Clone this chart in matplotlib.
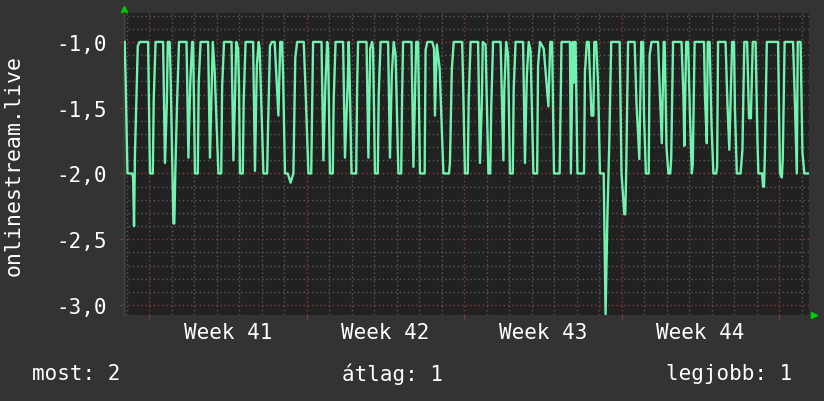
import matplotlib
matplotlib.use("Agg")
import matplotlib.pyplot as plt
from matplotlib.transforms import blended_transform_factory
import numpy as np

# hours from monday of week 41
hours = [-26, -25, -23, -18, -17, -16, -15, -13, -12, -10, -1, 1, 4, 5, 7, 15, 17, 19, 20, 22,
         23, 26, 27, 28, 30, 32, 40, 42, 44, 46, 47, 49, 52, 53, 55, 63, 65, 67, 68, 70,
         74, 77, 78, 80, 88, 90, 92, 93, 95, 96, 97, 100, 101, 103, 111, 113, 115, 117, 118, 122,
         126, 127, 129, 131, 134, 138, 140, 142, 143, 145, 148, 151, 154, 156, 158, 165, 167, 170, 173, 175,
         184, 186, 188, 190, 191, 193, 196, 197, 199, 207, 209, 212, 213, 214, 216, 221, 222, 223, 232, 234,
         236, 238, 239, 241, 244, 245, 247, 255, 257, 259, 261, 263, 266, 269, 270, 271, 280, 282, 285, 287,
         289, 294, 295, 297, 302, 304, 305, 307, 310, 314, 320, 321, 323, 325, 334, 335, 337, 340, 341, 343,
         351, 353, 355, 356, 359, 362, 364, 365, 367, 375, 378, 379, 381, 383, 385, 388, 389, 391, 399, 401,
         403, 405, 407, 410, 414, 415, 417, 421, 426, 428, 430, 431, 432, 438, 440, 449, 450, 452, 453, 454,
         455, 457, 464, 465, 467, 469, 472, 474, 475, 477, 479, 481, 485, 487, 489, 491, 493, 502, 504, 507,
         508, 509, 511, 518, 520, 523, 525, 527, 528, 530, 533, 534, 536, 543, 545, 547, 549, 550, 552, 554,
         556, 557, 559, 568, 570, 571, 573, 575, 577, 579, 580, 582, 592, 593, 595, 596, 598, 600, 602, 605,
         606, 607, 615, 617, 619, 622, 624, 625, 627, 631, 633, 635, 638, 640, 642, 644, 647, 649, 650, 654,
         655, 656, 657, 659, 671, 673, 675, 676, 678, 687, 689, 691, 692, 695, 697, 699, 703]
values = [-1.0, -1.27, -2.0, -2.0, -2.03, -2.40, -1.85, -1.30, -1.03, -1.0, -1.0, -2.0, -2.0, -1.44, -1.0, -1.0, -1.92, -1.46, -1.0, -1.0,
          -1.25, -2.38, -2.38, -2.0, -1.44, -1.0, -1.0, -1.88, -1.31, -1.0, -1.0, -2.0, -2.0, -1.31, -1.0, -1.0, -1.88, -1.30, -1.0, -1.22,
          -2.0, -2.0, -1.34, -1.0, -1.0, -1.90, -1.34, -1.0, -1.05, -1.34, -2.0, -2.0, -1.44, -1.0, -1.0, -1.98, -1.18, -1.0, -1.05, -2.0,
          -2.0, -1.64, -1.03, -1.0, -1.0, -1.56, -1.0, -1.0, -1.25, -2.0, -2.0, -2.07, -2.0, -1.12, -1.0, -1.0, -1.37, -2.0, -2.0, -1.0,
          -1.0, -1.90, -1.35, -1.0, -1.05, -2.0, -2.0, -1.44, -1.0, -1.0, -1.88, -1.30, -1.0, -1.27, -2.0, -2.0, -1.34, -1.0, -1.0, -1.88,
          -1.05, -1.0, -1.05, -2.0, -2.0, -1.41, -1.0, -1.0, -1.88, -1.24, -1.0, -1.10, -2.0, -2.0, -1.39, -1.0, -1.0, -1.95, -1.0, -1.0,
          -2.0, -2.0, -1.06, -1.0, -1.0, -1.05, -1.56, -1.02, -1.20, -2.0, -2.0, -1.92, -1.21, -1.0, -1.0, -1.30, -2.0, -2.0, -1.44, -1.0,
          -1.0, -1.92, -1.46, -1.0, -1.02, -2.0, -2.0, -1.51, -1.0, -1.0, -1.90, -1.36, -1.0, -1.10, -2.0, -2.0, -1.36, -1.0, -1.0, -1.92,
          -1.26, -1.0, -1.07, -2.0, -2.0, -1.18, -1.0, -1.05, -1.49, -1.0, -1.0, -1.54, -2.0, -2.0, -1.0, -1.0, -2.0, -1.0, -1.31, -1.0,
          -1.0, -2.0, -2.0, -1.23, -1.0, -1.0, -1.56, -1.56, -1.0, -1.0, -1.32, -2.0, -2.0, -3.07, -2.31, -1.76, -1.0, -1.0, -2.0, -2.31,
          -2.31, -1.99, -1.0, -1.0, -1.47, -1.89, -1.0, -1.0, -1.56, -2.0, -2.0, -1.10, -1.0, -1.0, -1.40, -1.77, -1.0, -1.0, -1.80, -2.0,
          -2.0, -1.89, -1.0, -1.0, -1.40, -1.79, -1.0, -1.0, -1.55, -2.0, -1.93, -1.0, -1.0, -1.41, -1.77, -1.0, -1.0, -1.63, -2.0, -2.0,
          -1.95, -1.0, -1.0, -1.47, -1.82, -1.0, -1.0, -1.51, -2.0, -2.0, -1.82, -1.0, -1.0, -1.58, -1.58, -1.0, -1.0, -1.74, -2.0, -2.0,
          -2.10, -2.10, -1.83, -1.0, -1.0, -2.0, -2.03, -1.89, -1.0, -1.0, -1.47, -2.0, -1.0, -1.0, -1.84, -2.0, -2.0]

week_labels = ["Week 41", "Week 42", "Week 43", "Week 44"]
y_ticks = [-1.0, -1.5, -2.0, -2.5, -3.0]
legend_texts = ["most: 2", "átlag: 1", "legjobb: 1"]

BG = "#333333"
CANVAS = "#212121"
LINE = "#72f2ae"
FONT = "DejaVu Sans Mono"


def draw():
    fig = plt.figure(figsize=(8.24, 4.02), dpi=100, facecolor=BG)
    ax = fig.add_axes([124 / 824, 1 - 316 / 402, 685 / 824, 302 / 402])
    ax.set_facecolor(CANVAS)
    ax.set_xlim(-26.7, 704)
    ax.set_ylim(-3.076, -0.78)

    # grid: minor every day / 0.1, major every week / 0.5
    for d in np.arange(-24, 704, 24):
        col = "#8a3a3a" if d % 168 == 0 else "#5a5a5a"
        ax.axvline(d, color=col, lw=1, ls=(0, (1, 2)), zorder=1)
    for v in np.arange(-3.0, -0.75, 0.1):
        col = "#8a3a3a" if abs(v * 2 - round(v * 2)) < 1e-6 else "#5a5a5a"
        ax.axhline(v, color=col, lw=1, ls=(0, (1, 2)), zorder=1)

    ax.plot(hours, values, color=LINE, lw=1.7, zorder=3)

    ax.set_yticks(y_ticks)
    ax.set_yticklabels([("%.1f" % t).replace(".", ",") for t in y_ticks],
                       family=FONT, fontsize=15, color="white")
    ax.set_xticks(np.arange(0, 704, 168))
    ax.set_xticklabels([])
    ax.tick_params(axis="both", length=3, color="#8a3a3a")
    ax.tick_params(axis="y", pad=9)
    ax.tick_params(axis="x", pad=2)
    for s in ax.spines.values():
        s.set_visible(False)
    ax.spines["left"].set_visible(True)
    ax.spines["left"].set_color("#3c3c3c")
    ax.spines["left"].set_linewidth(2)

    tr = blended_transform_factory(ax.transData, ax.transAxes)
    for i, lab in enumerate(week_labels):
        ax.text(84 + 168 * i, -0.024, lab, transform=tr, ha="center", va="top",
                family=FONT, fontsize=15, color="white")

    ax.set_ylabel("onlinestream.live", family=FONT, fontsize=15.5, color="white")
    ax.yaxis.set_label_coords(-0.147, 0.5)

    # rrd style arrows
    ax.plot([0], [1.012], marker="^", color="#00d000", ms=5, transform=ax.transAxes, clip_on=False)
    ax.plot([1.007], [0], marker=">", color="#00d000", ms=5, transform=ax.transAxes, clip_on=False)

    fig.text(32 / 824, 1 - 374 / 402, legend_texts[0], ha="left", va="center",
             family=FONT, fontsize=15, color="white")
    fig.text(392 / 824, 1 - 374 / 402, legend_texts[1], ha="center", va="center",
             family=FONT, fontsize=15, color="white")
    fig.text(792 / 824, 1 - 374 / 402, legend_texts[2], ha="right", va="center",
             family=FONT, fontsize=15, color="white")

    fig.savefig("out.png", dpi=100, facecolor=BG)


if __name__ == '__main__':
    draw()
